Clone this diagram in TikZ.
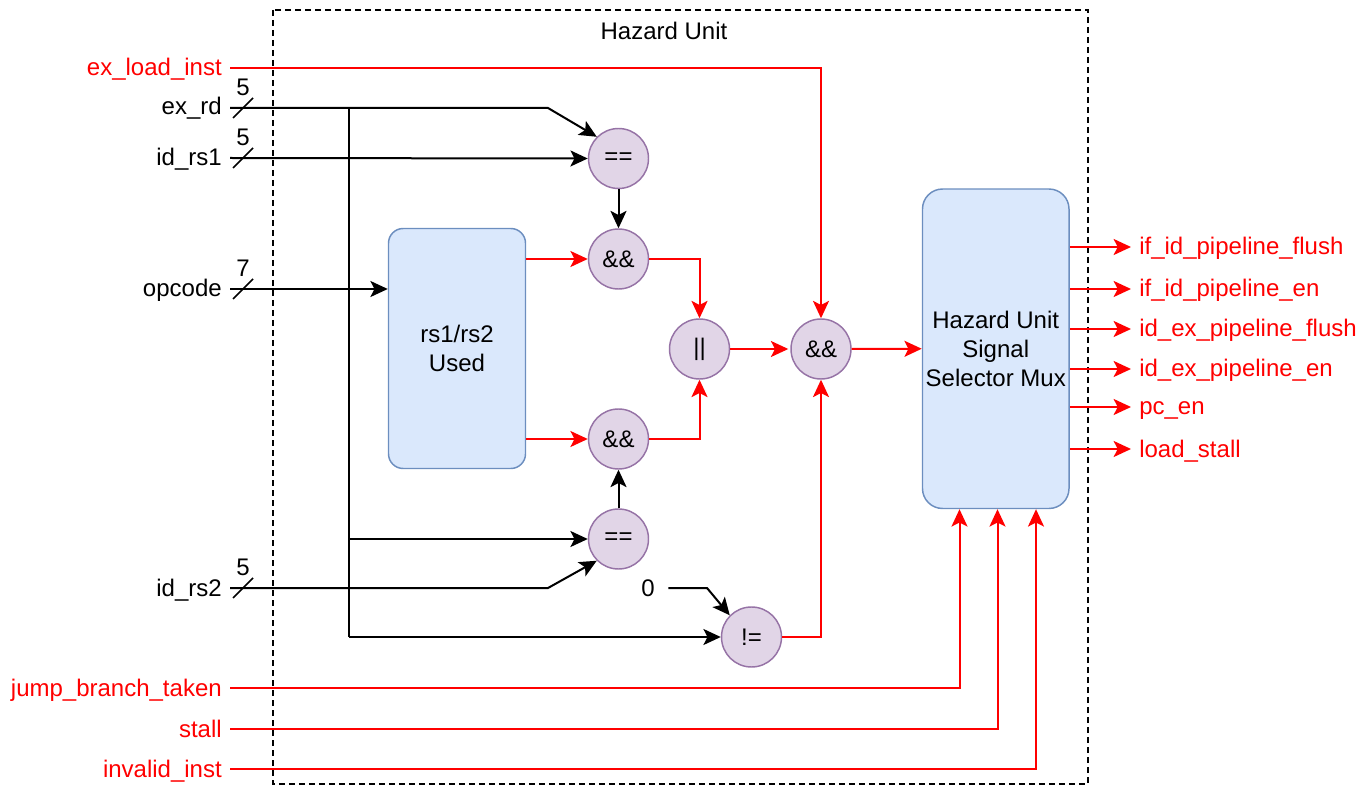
\documentclass[tikz,border=0pt]{standalone}
\usepackage{fontspec}
\setmainfont{Liberation Sans}
\usetikzlibrary{arrows.meta,calc}
\definecolor{opfill}{HTML}{E1D5E7}
\definecolor{opdraw}{HTML}{9673A6}
\definecolor{blkfill}{HTML}{DAE8FC}
\definecolor{blkdraw}{HTML}{6C8EBF}
\definecolor{sigred}{HTML}{FF0000}
\begin{document}
\begin{tikzpicture}[x=0.75pt,y=-0.75pt,
  font=\fontsize{18}{21.75}\selectfont,
  >={Stealth[length=13pt,width=12pt,inset=3pt]},
  wire/.style={line width=1.5pt,black},
  rwire/.style={line width=1.5pt,sigred},
  op/.style={circle,draw=opdraw,fill=opfill,line width=1.1pt,minimum size=45pt,inner sep=0pt},
  blk/.style={rectangle,rounded corners=11pt,draw=blkdraw,fill=blkfill,line width=1.1pt,align=center,inner sep=0pt},
  inlbl/.style={anchor=base east,inner sep=0pt},
  outlbl/.style={anchor=base west,inner sep=0pt,text=sigred},
  buslbl/.style={inner sep=0pt},
  slash/.style={line width=1.1pt,black}]
\useasboundingbox (0,0) rectangle (1360,798);
% enclosure
\draw[line width=1.5pt,dash pattern=on 4.5pt off 3pt] (273,10) rectangle (1088,784);
\node[inner sep=0pt] (title) at (664,31) {Hazard Unit};

% operator nodes
\node[op] (eqa) at (618.5,158.5) {==};
\node[op] (anda) at (618.5,259) {\&\&};
\node[op] (orr) at (699.5,349) {||};
\node[op] (andc) at (821,349) {\&\&};
\node[op] (andb) at (618.5,439) {\&\&};
\node[op] (eqb) at (618.5,539) {==};
\node[op] (neq) at (751.5,637) {!=};

% blocks
\node[blk,minimum width=102.75pt,minimum height=180pt] (rs) at (457,348.5) {rs1/rs2\\Used};
\node[blk,minimum width=109.9pt,minimum height=239.6pt,rounded corners=15pt] (mux) at (995.75,348.75) {Hazard Unit\\Signal\\Selector Mux};

% input labels
\node[inlbl,text=sigred] (l_exload) at (222,76) {ex\_load\_inst};
\node[inlbl] (l_exrd) at (222,115) {ex\_rd};
\node[inlbl] (l_rs1) at (222,166) {id\_rs1};
\node[inlbl] (l_opc) at (222,297) {opcode};
\node[inlbl] (l_rs2) at (222,596) {id\_rs2};
\node[inlbl,text=sigred] (l_jbt) at (222,696) {jump\_branch\_taken};
\node[inlbl,text=sigred] (l_stall) at (222,737) {stall};
\node[inlbl,text=sigred] (l_inv) at (222,777) {invalid\_inst};

% start coordinates
\coordinate (s_exload) at (230,68);
\coordinate (s_exrd) at (230,108);
\coordinate (s_rs1) at (230,158);
\coordinate (s_opc) at (230,289);
\coordinate (s_rs2) at (230,588);
\coordinate (s_jbt) at (230,688);
\coordinate (s_stall) at (230,729);
\coordinate (s_inv) at (230,769);
\coordinate (j_top) at (349,108);
\coordinate (j_mid) at (349,539);
\coordinate (j_bot) at (349,637);

% bus width marks
\foreach \yy/\w/\nm in {108/5/a,158/5/b,289/7/c,588/5/d}{
  \draw[slash] (233,\yy+10) -- (253,\yy-10);
  \node[buslbl] (bw\nm) at (243,\yy-21) {\w};
}

% black wires
\draw[wire,->] (s_exrd) -- (548,108) -- (eqa.north west);
\draw[wire,->] (s_rs1) -- (eqa.west);
\draw[wire,->] (s_opc) -- (rs.west |- s_opc);
\draw[wire] (j_top) -- (j_bot);
\draw[wire,->] (j_mid) -- (eqb.west);
\draw[wire,->] (j_bot) -- (neq.west);
\draw[wire,->] (s_rs2) -- (548,588) -- (eqb.south west);
\draw[wire,->] (eqa.south) -- (anda.north);
\draw[wire,->] (eqb.north) -- (andb.south);
\node[inner sep=0pt] (zero) at (648,588) {0};
\draw[wire,->] (zero.east) ++(10pt,0) coordinate (zs) (zs) -- (707,588) -- (neq.north west);

% red wires
\draw[rwire,->] (s_exload) -| (andc.north);
\draw[rwire,->] (rs.east |- anda) -- (anda.west);
\draw[rwire,->] (rs.east |- andb) -- (andb.west);
\draw[rwire,->] (anda.east) -| (orr.north);
\draw[rwire,->] (andb.east) -| (orr.south);
\draw[rwire,->] (orr.east) -- ($(andc.west)+(-2,0)$);
\draw[rwire,->] (andc.east) -- (mux.west);
\draw[rwire,->] (neq.east) -| (andc.south);
\draw[rwire,->] (s_jbt) -| (mux.south -| 959.5,0);
\draw[rwire,->] (s_stall) -| (mux.south -| 997.5,0);
\draw[rwire,->] (s_inv) -| (mux.south -| 1036,0);

% outputs
\foreach \yy/\txt/\nm in {247/if\_id\_pipeline\_flush/oa,289/if\_id\_pipeline\_en/ob,329/id\_ex\_pipeline\_flush/oc,369/id\_ex\_pipeline\_en/od,407/pc\_en/oe,449/load\_stall/of}{
  \coordinate (t\nm) at (1131,\yy);
  \draw[rwire,->] (mux.east |- t\nm) -- (t\nm);
  \node[outlbl] (\nm) at (1139,\yy+8) {\txt};
}
\end{tikzpicture}
\end{document}
